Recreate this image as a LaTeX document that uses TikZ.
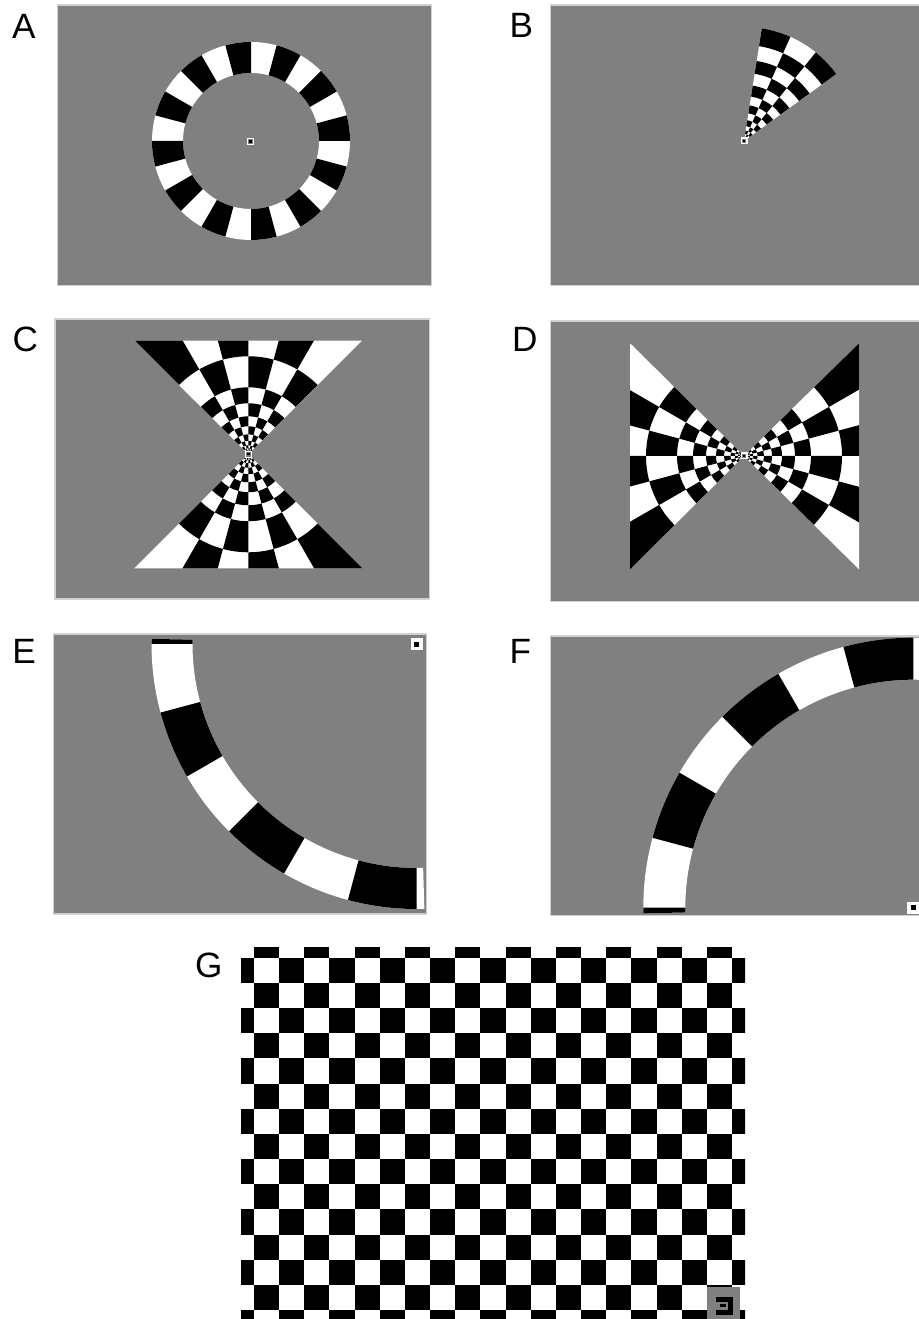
\documentclass[tikz,border=0pt]{standalone}
\usepackage{fontspec}
\setmainfont{Liberation Sans}
\definecolor{bggray}{RGB}{128,128,128}
\newcommand{\checkcell}[5]{\fill[#1] (#2:#4) arc[start angle=#2, end angle=#3, radius=#4] -- (#3:#5) arc[start angle=#3, end angle=#2, radius=#5] -- cycle;}

\begin{document}
\begin{tikzpicture}[x=0.01cm, y=0.01cm,
  panel/.style={fill=bggray, draw=black!18, line width=0.4pt},
  lbl/.style={font=\fontsize{10}{12}\selectfont, inner sep=0pt},
  fixsmall/.style={rectangle, fill=bggray, draw=white, line width=0.012cm, minimum size=0.058cm, inner sep=0pt},
  fixbig/.style={rectangle, fill=white, minimum size=0.12cm, inner sep=0pt},
  fixdot/.style={rectangle, fill=black, minimum size=#1, inner sep=0pt}]
\useasboundingbox (0,0) rectangle (919,1319);
\fill[white] (0,0) rectangle (919,1319);

% A
\draw[panel] (57.3,1033.3) rectangle (431.3,1314);
\node[lbl] (labA) at (23.8,1292.3) {A};
\begin{scope}[shift={(251,1178)}]
  \fill[white, even odd rule] (0,0) circle[radius=99] (0,0) circle[radius=68];
  \foreach \j in {0,2,...,22} {
    \pgfmathsetmacro\angA{15*\j}\pgfmathsetmacro\angB{15*\j+15}
    \checkcell{black}{\angA}{\angB}{68}{99}}
\end{scope}
\node[fixsmall] (fixA) at (250.5,1177.5) {};
\node[fixdot=0.024cm] (dotA) at (fixA) {};

% B
\draw[panel] (550.7,1033.3) rectangle (925,1314);
\node[lbl] (labB) at (521.3,1293.2) {B};
\begin{scope}[shift={(744,1178)}]
  \checkcell{white}{36}{81}{3}{114}
  \foreach \ri/\ro [count=\k from 0] in {96/114,81/96,68/81,56/68,45/56,36/45,28/36,21/28,15/21,10.5/15,7/10.5,4.5/7,3/4.5}
    \foreach \j in {0,1,2} {
      \pgfmathtruncatemacro\cpar{mod(\j+\k,2)}
      \ifnum\cpar=0
        \pgfmathsetmacro\angA{36+15*\j}\pgfmathsetmacro\angB{51+15*\j}
        \checkcell{black}{\angA}{\angB}{\ri}{\ro}
      \fi}
\end{scope}
\node[fixsmall] (fixB) at (744,1178) {};
\node[fixdot=0.024cm] (dotB) at (fixB) {};

% C
\draw[panel] (55,720) rectangle (429.3,1000);
\node[lbl] (labC) at (25.3,979.8) {C};
\begin{scope}[shift={(248.3,864.7)}]
  \fill[white] (0,0) -- (-113.65,113.6) -- (113.65,113.6) -- cycle;
  \fill[white] (0,0) -- (-114,-114) -- (114,-114) -- cycle;
  \clip (0,0) -- (-113.65,113.6) -- (113.65,113.6) -- cycle
        (0,0) -- (-114,-114) -- (114,-114) -- cycle;
  \foreach \ri/\ro [count=\k from 0] in {98/175,67/98,51/67,38/51,28/38,20/28,13.5/20,9/13.5,6/9,4/6,2.5/4}
    \foreach \j in {3,...,8} {
      \pgfmathtruncatemacro\cpar{mod(\j+\k,2)}
      \ifnum\cpar=0
        \pgfmathsetmacro\angA{15*\j}\pgfmathsetmacro\angB{15*\j+15}
        \checkcell{black}{\angA}{\angB}{\ri}{\ro}
        \pgfmathsetmacro\angA{15*\j+180}\pgfmathsetmacro\angB{15*\j+195}
        \checkcell{black}{\angA}{\angB}{\ri}{\ro}
      \fi}
\end{scope}
\node[fixsmall] (fixC) at (248.3,864.7) {};
\node[fixdot=0.024cm] (dotC) at (fixC) {};

% D
\draw[panel] (550.7,717.3) rectangle (925,998);
\node[lbl] (labD) at (524.7,979.8) {D};
\begin{scope}[shift={(744,863)}]
  \fill[white] (0,0) -- (-114,112.7) -- (-114,-113.3) -- cycle;
  \fill[white] (0,0) -- (115,112.7) -- (115,-113.3) -- cycle;
  \clip (0,0) -- (-114,112.7) -- (-114,-113.3) -- cycle
        (0,0) -- (115,112.7) -- (115,-113.3) -- cycle;
  \foreach \ri/\ro [count=\k from 0] in {98/175,67/98,51/67,38/51,28/38,20/28,13.5/20,9/13.5,6/9,4/6,2.5/4}
    \foreach \j in {9,...,14} {
      \pgfmathtruncatemacro\cpar{mod(\j+\k,2)}
      \ifnum\cpar=0
        \pgfmathsetmacro\angA{15*\j}\pgfmathsetmacro\angB{15*\j+15}
        \checkcell{black}{\angA}{\angB}{\ri}{\ro}
        \pgfmathsetmacro\angA{15*\j-180}\pgfmathsetmacro\angB{15*\j-165}
        \checkcell{black}{\angA}{\angB}{\ri}{\ro}
      \fi}
\end{scope}
\node[fixsmall] (fixD) at (744,863) {};
\node[fixdot=0.024cm] (dotD) at (fixD) {};

% E
\draw[panel] (53.3,405) rectangle (426.7,685);
\node[lbl] (labE) at (24.2,667.3) {E};
\begin{scope}[shift={(416.5,675)}]
  \checkcell{white}{178.9}{271.7}{224}{265}
  \checkcell{black}{178.9}{180}{224}{265}
  \foreach \angA in {195,225,255} {
    \pgfmathsetmacro\angB{\angA+15}
    \checkcell{black}{\angA}{\angB}{224}{265}}
\end{scope}
\node[fixbig] (fixE) at (416.5,674.8) {};
\node[fixdot=0.053cm] (dotE) at (fixE) {};

% F
\draw[panel] (550.7,403.3) rectangle (925,683);
\node[lbl] (labF) at (520.3,667.8) {F};
\begin{scope}[shift={(913.3,411.3)}]
  \checkcell{white}{88.3}{181.2}{228}{270}
  \checkcell{black}{180}{181.2}{228}{270}
  \foreach \angA in {90,120,150} {
    \pgfmathsetmacro\angB{\angA+15}
    \checkcell{black}{\angA}{\angB}{228}{270}}
\end{scope}
\node[fixbig] (fixF) at (913.3,411.3) {};
\node[fixdot=0.053cm] (dotF) at (fixF) {};

% G
\node[lbl] (labG) at (208.7,353.2) {G};
\begin{scope}
  \clip (241,0) rectangle (745,371.3);
  \foreach \r in {-1,...,14}
    \foreach \c in {-1,...,19} {
      \pgfmathtruncatemacro\cpar{mod(\c+\r+2,2)}
      \ifnum\cpar=1
        \fill (254+25.16*\c,336.1-25.17*\r) rectangle ++(25.16,25.17);
      \fi}
\end{scope}
\fill[bggray] (706.7,0) rectangle (740,32.3);
\fill (716,17.3) rectangle (733.3,22.3);
\fill (728.3,4) rectangle (733.3,22.3);
\fill (716,4) rectangle (733.3,9);
\fill (720,11.5) rectangle (726,15);
\end{tikzpicture}
\end{document}
